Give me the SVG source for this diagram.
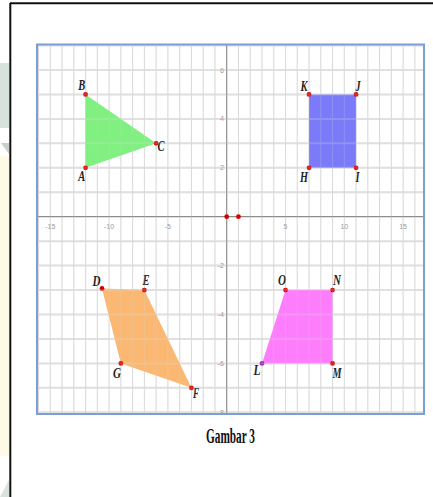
<svg xmlns="http://www.w3.org/2000/svg" width="433" height="497" viewBox="0 0 433 497">
<defs>
<style>
.grid-v{stroke:#dadada;stroke-width:1;fill:none}
.grid-h{stroke:#e0e0e0;stroke-width:2;fill:none}
.axis{stroke:#8c8c8c;stroke-width:1.2;fill:none}
.tick{font-family:"Liberation Sans",Arial,sans-serif;font-size:7px;fill:#9a9a9a}
.vl{font-family:"Liberation Serif","Times New Roman",serif;font-style:italic;font-weight:bold;font-size:14px;fill:#222;text-anchor:middle}
.dot{fill:#d40000}
.cap{font-family:"Liberation Serif","Times New Roman",serif;font-weight:bold;font-size:20px;fill:#111;text-anchor:middle}
</style>
</defs>
<rect width="433" height="497" fill="#ffffff"/>
<!-- left watermark strip -->
<g id="watermark">
<rect x="0" y="63" width="9" height="65" fill="#d6e2da"/>
<polygon points="1,143 9,143 9,154" fill="#c8d0cc"/>
<rect x="0" y="156" width="9" height="300" fill="#fdfbe6"/>
<polygon points="0,497 9,480 9,497" fill="#d9e3dc"/>
</g>
<!-- outer frame -->
<g id="frame">
<line x1="10.3" y1="3" x2="10.3" y2="497" stroke="#111" stroke-width="2"/>
<line x1="10" y1="3.2" x2="433" y2="3.2" stroke="#111" stroke-width="2"/>
</g>
<!-- plot -->
<g id="plot">
<rect x="37" y="44.5" width="387" height="370" fill="#ffffff"/>
<path id="gridh" class="grid-h" d="M37 45.55H424M37 70H424M37 94.45H424M37 118.9H424M37 143.35H424M37 167.8H424M37 192.25H424M37 241.15H424M37 265.6H424M37 290.05H424M37 314.5H424M37 338.95H424M37 363.4H424M37 387.85H424M37 412.3H424"/>
<path id="gridv" class="grid-v" d="M38.54 44.5V414M50.3 44.5V414M62.06 44.5V414M73.82 44.5V414M85.58 44.5V414M97.34 44.5V414M109.1 44.5V414M120.86 44.5V414M132.62 44.5V414M144.38 44.5V414M156.14 44.5V414M167.9 44.5V414M179.66 44.5V414M191.42 44.5V414M203.18 44.5V414M214.94 44.5V414M238.46 44.5V414M250.22 44.5V414M261.98 44.5V414M273.74 44.5V414M285.5 44.5V414M297.26 44.5V414M309.02 44.5V414M320.78 44.5V414M332.54 44.5V414M344.3 44.5V414M356.06 44.5V414M367.82 44.5V414M379.58 44.5V414M391.34 44.5V414M403.1 44.5V414M414.86 44.5V414"/>
<line class="axis" x1="37" y1="216.7" x2="424" y2="216.7"/>
<line class="axis" x1="226.7" y1="44.5" x2="226.7" y2="414"/>
<g class="tick">
<text x="50.3" y="229" text-anchor="middle">-15</text>
<text x="109.1" y="229" text-anchor="middle">-10</text>
<text x="167.9" y="229" text-anchor="middle">-5</text>
<text x="285.5" y="229" text-anchor="middle">5</text>
<text x="344.3" y="229" text-anchor="middle">10</text>
<text x="403.1" y="229" text-anchor="middle">15</text>
<text x="224" y="72.5" text-anchor="end">6</text>
<text x="224" y="121.4" text-anchor="end">4</text>
<text x="224" y="170.3" text-anchor="end">2</text>
<text x="224" y="268.1" text-anchor="end">-2</text>
<text x="224" y="317" text-anchor="end">-4</text>
<text x="224" y="365.9" text-anchor="end">-6</text>
<text x="224" y="414.8" text-anchor="end">-8</text>
</g>
</g>
<g id="triangle-ABC">
<polygon points="85.58,167.8 85.58,94.45 156.14,143.35" fill="#80f080"/>
<circle class="dot" cx="85.58" cy="167.8" r="2.4"/>
<circle class="dot" cx="85.58" cy="94.45" r="2.4"/>
<circle class="dot" cx="156.14" cy="143.35" r="2.4"/>
<text class="vl" x="81.7" y="90" textLength="7" lengthAdjust="spacingAndGlyphs">B</text>
<text class="vl" x="81.7" y="181" textLength="7" lengthAdjust="spacingAndGlyphs">A</text>
<text class="vl" x="161" y="150.5" textLength="7" lengthAdjust="spacingAndGlyphs">C</text>
</g>
<g id="rect-HIJK">
<polygon points="309.02,167.8 356.06,167.8 356.06,94.45 309.02,94.45" fill="#7b7bfa"/>
<circle class="dot" cx="309.02" cy="167.8" r="2.4"/>
<circle class="dot" cx="356.06" cy="167.8" r="2.4"/>
<circle class="dot" cx="356.06" cy="94.45" r="2.4"/>
<circle class="dot" cx="309.02" cy="94.45" r="2.4"/>
<text class="vl" x="304" y="91" textLength="7" lengthAdjust="spacingAndGlyphs">K</text>
<text class="vl" x="358" y="91" textLength="5" lengthAdjust="spacingAndGlyphs">J</text>
<text class="vl" x="304" y="181.5" textLength="8" lengthAdjust="spacingAndGlyphs">H</text>
<text class="vl" x="357.5" y="182" textLength="4" lengthAdjust="spacingAndGlyphs">I</text>
</g>
<g id="para-DEFG">
<polygon points="102,288.5 144.38,290.05 191.42,387.85 120.86,363.4" fill="#fbb873"/>
<circle class="dot" cx="102" cy="288.5" r="2.4"/>
<circle class="dot" cx="144.38" cy="290.05" r="2.4"/>
<circle class="dot" cx="191.42" cy="387.85" r="2.4"/>
<circle class="dot" cx="120.86" cy="363.4" r="2.4"/>
<text class="vl" x="96.5" y="286" textLength="8" lengthAdjust="spacingAndGlyphs">D</text>
<text class="vl" x="146" y="284.5" textLength="7" lengthAdjust="spacingAndGlyphs">E</text>
<text class="vl" x="117" y="378" textLength="8" lengthAdjust="spacingAndGlyphs">G</text>
<text class="vl" x="196" y="398" textLength="6" lengthAdjust="spacingAndGlyphs">F</text>
</g>
<g id="trap-LMNO">
<polygon points="261.98,363.4 332.54,363.4 332.54,290.05 285.5,290.05" fill="#fd7dfd"/>
<circle cx="261.98" cy="363.4" r="2.4" fill="#a020b0"/>
<circle class="dot" cx="332.54" cy="363.4" r="2.4"/>
<circle class="dot" cx="332.54" cy="290.05" r="2.4"/>
<circle class="dot" cx="285.5" cy="290.05" r="2.4"/>
<text class="vl" x="282" y="284.5" textLength="8" lengthAdjust="spacingAndGlyphs">O</text>
<text class="vl" x="337" y="284.5" textLength="8" lengthAdjust="spacingAndGlyphs">N</text>
<text class="vl" x="257" y="374.5" textLength="7" lengthAdjust="spacingAndGlyphs">L</text>
<text class="vl" x="337" y="378" textLength="9" lengthAdjust="spacingAndGlyphs">M</text>
</g>
<!-- grid showing through fills -->
<g id="grid-overlay" opacity="0.22">
<use href="#gridh" style="stroke:#ffffff"/>
<use href="#gridv" style="stroke:#ffffff"/>
</g>
<g id="origin-points">
<circle class="dot" cx="226.7" cy="216.7" r="2.4"/>
<circle class="dot" cx="238.46" cy="216.7" r="2.4"/>
</g>
<rect id="plot-border" x="37" y="44.5" width="387" height="369.5" fill="none" stroke="#7b9ed4" stroke-width="2"/>
<text class="cap" x="230.5" y="443" textLength="49" lengthAdjust="spacingAndGlyphs">Gambar 3</text>
</svg>
